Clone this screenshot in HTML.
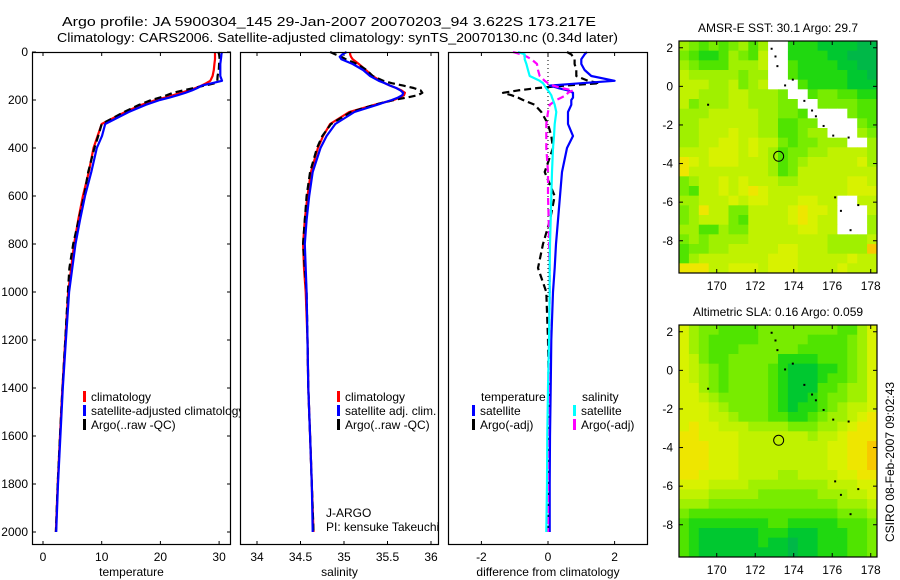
<!DOCTYPE html>
<html><head><meta charset="utf-8"><style>
html,body{margin:0;padding:0;background:#fff;}
svg{display:block;font-family:"Liberation Sans",sans-serif;}
</style></head><body>
<svg id="fig" width="900" height="580" viewBox="0 0 900 580" xmlns="http://www.w3.org/2000/svg">
<text x="62" y="26" font-size="13" textLength="534" lengthAdjust="spacingAndGlyphs">Argo profile: JA 5900304_145 29-Jan-2007 20070203_94 3.622S 173.217E</text>
<text x="57" y="42" font-size="13" textLength="561" lengthAdjust="spacingAndGlyphs">Climatology: CARS2006. Satellite-adjusted climatology: synTS_20070130.nc (0.34d later)</text>
<g id="g"></g>
</svg>
<script>
// ---- profile data ----
const depths = [0,10,20,30,50,75,100,120,130,140,150,160,170,180,190,200,220,250,300,350,400,500,600,700,800,900,1000,1200,1400,1600,1800,2000];
const climT = [29.3,29.3,29.3,29.3,29.2,29.1,28.9,28.5,27.8,27.0,26.0,24.8,23.5,22.2,20.8,19.2,16.8,14.0,10.0,9.3,8.6,7.8,6.8,6.0,5.3,4.8,4.3,3.8,3.3,2.9,2.5,2.2];
const satDiffT = [1.17,1.1,1.05,1.0,1.0,1.1,1.3,2.0,1.0,0.05,0.3,0.6,0.75,0.75,0.75,0.7,0.7,0.6,0.6,0.75,0.57,0.42,0.36,0.3,0.24,0.2,0.15,0.1,0.08,0.06,0.05,0.05];
const argoDiffT = [0.57,0.7,0.75,0.8,0.8,0.85,0.85,1.2,1.55,0.5,-0.3,-0.9,-1.35,-1.1,-0.9,-0.75,-0.4,-0.2,0,0.1,0.15,-0.1,0.2,0.06,-0.15,-0.3,-0.05,0,0.02,0,0,0];
const climS = [35.07,35.07,35.08,35.1,35.17,35.25,35.33,35.42,35.47,35.53,35.6,35.66,35.7,35.69,35.64,35.57,35.35,35.06,34.84,34.76,34.70,34.62,34.58,34.55,34.53,34.54,34.56,34.58,34.59,34.61,34.63,34.65];
const satS = [35.03,34.98,34.95,34.97,35.1,35.22,35.3,35.4,35.47,35.53,35.6,35.65,35.68,35.67,35.62,35.55,35.38,35.12,34.9,34.8,34.73,34.64,34.6,34.57,34.55,34.56,34.57,34.58,34.59,34.61,34.63,34.64];
const argoS = [34.84,34.9,34.97,35.02,35.15,35.26,35.33,35.45,35.55,35.68,35.8,35.88,35.9,35.85,35.72,35.57,35.35,35.08,34.85,34.75,34.69,34.61,34.57,34.55,34.53,34.55,34.57,34.58,34.59,34.61,34.63,34.65];
const satDiffS = [-0.9,-0.7,-0.7,-0.7,-0.65,-0.6,-0.55,-0.25,-0.15,-0.1,-0.06,0,0.05,0.1,0.12,0.15,0.2,0.25,0.2,0.18,0.15,0.12,0.1,0.08,0.06,0.05,0.05,0.03,0,-0.02,-0.03,-0.05];
const argoDiffS = [-1.05,-0.8,-0.63,-0.5,-0.33,-0.3,-0.25,-0.1,0.0,0.15,0.4,0.75,0.6,0.55,0.4,0.25,0.05,0.0,-0.05,-0.05,-0.05,0,0,0.02,0.03,0.05,0.05,0.03,0.02,0,0,0];
const depthTicks = [0,200,400,600,800,1000,1200,1400,1600,1800,2000];
const tTicks = [0,10,20,30];
const sTicks = [34,34.5,35,35.5,36];
const dTicks = [-2,0,2];
// ---- map data ----
const sstRows = [
"543434535ww222111100","432235436ww222211000","543335556ww322221100","655555455ww322222110",
"666556456www32222111","66555665554ww3443322","645556655544ww444433","5556666655443wwww433",
"55666666553344wwww43","556667665533455www54","55667767664344555ww5","66677767653445566665",
"87677766653456666675","86666666653466666666","45667676665566666776","43667678766666666777",
"5566676776667766ww66","4586644666678776www6","4566643666678766www5","5533544666667766www5",
"45455556666666655556","34455666667766655559","35666666677766666766","88866777677766667666"];
const slaRows = [
"75443333444444443357","75433333444443333457","75433344444433333457","76433444442222333457",
"76543444432111223457","76543444432111233457","77543444432111334557","77654444432112344557",
"77765444432122345667","77766544433223455678","78776665555444556788","88777766666665667888",
"88877766666666677889","88877766666666677889","88877766666666677889","88777766665566667788",
"77766665555555566677","66655555444444555667","55544444444444445556","43333333333333334445",
"32222222233222223334","32111111222111222334","32111111211011222334","32111111111011222334"];
const latTicks = [2,0,-2,-4,-6,-8];
const lonTicks = [170,172,174,176,178];
const argoLon = 173.217, argoLat = -3.622;

const NS="http://www.w3.org/2000/svg";
const G=document.getElementById('g');
function el(t,a,p){const e=document.createElementNS(NS,t);for(const k in a)e.setAttribute(k,a[k]);(p||G).appendChild(e);return e;}
function txt(s,a,p){const e=el('text',a,p);e.textContent=s;return e;}
const yD=d=>52+d*0.24;
const FS=12;

function panel(x0,x1,xs,ticks,fmt,label,name,yLabels){
  const pg=el('g',{});
  
  
  el('rect',{x:x0,y:52,width:x1-x0,height:493,fill:'#fff',stroke:'none'},pg);
  ticks.forEach(v=>{const x=xs(v);
    el('line',{x1:x,x2:x,y1:52,y2:56,stroke:'#000'},pg);
    el('line',{x1:x,x2:x,y1:545,y2:541,stroke:'#000'},pg);
    const t=txt(fmt(v),{x:x,y:561,'font-size':FS,'text-anchor':'middle'},pg);
    
    
  });
  const t=txt(label,{x:(x0+x1)/2,y:576,'font-size':FS,'text-anchor':'middle'},pg);
  
  
  return pg;
}
function frame(x0,x1,name){
  const r=el('rect',{x:x0+0.5,y:52.5,width:x1-x0-1,height:492,fill:'none',stroke:'#000','stroke-width':1.2});
  
  
}
function line(xs,vals,color,name,dash,clip){
  const pts=vals.map((v,i)=>xs(v).toFixed(1)+','+yD(depths[i]).toFixed(1)).join(' ');
  const a={points:pts,fill:'none',stroke:color,'stroke-width':2.2,'stroke-linejoin':'round'};
  if(dash)a['stroke-dasharray']=dash;
  const p=el('polyline',a);
  
  
}
function legend(x,y,color,label,name){
  const r=el('rect',{x:x,y:y-10,width:3,height:11,fill:color});
  
  
  const t=txt(label,{x:x+8,y:y,'font-size':FS});
  
  
}

// Panel 1 temperature
const xT=v=>43+v*5.87;
panel(32,231,xT,tTicks,v=>String(v),'temperature','temperature-panel');
depthTicks.forEach(d=>{const y=yD(d);
  el('line',{x1:32,x2:36,y1:y,y2:y,stroke:'#000'});
  el('line',{x1:231,x2:227,y1:y,y2:y,stroke:'#000'});
  const t=txt(String(d),{x:28,y:y+4,'font-size':FS,'text-anchor':'end'});
  
  
});
line(xT,climT,'#f00','temp-climatology-line');
line(xT,climT.map((v,i)=>v+argoDiffT[i]),'#000','temp-argo-line','7 4');
line(xT,climT.map((v,i)=>v+satDiffT[i]),'#00f','temp-satellite-line');
legend(83,401,'#f00','climatology','legend-climatology');
legend(83,415,'#00f','satellite-adjusted climatology','legend-satellite-adjusted');
legend(83,429,'#000','Argo(..raw -QC)','legend-argo');
frame(32,231,'temperature-frame');

// Panel 2 salinity
const xS=v=>257+(v-34)*87;
panel(240,439,xS,sTicks,v=>String(v),'salinity','salinity-panel');
line(xS,climS,'#f00','sal-climatology-line');
line(xS,argoS,'#000','sal-argo-line','7 4');
line(xS,satS,'#00f','sal-satellite-line');
legend(337,401,'#f00','climatology','legend2-climatology');
legend(337,415,'#00f','satellite adj. clim.','legend2-satellite');
legend(337,429,'#000','Argo(..raw -QC)','legend2-argo');
let t=txt('J-ARGO',{x:326,y:517,'font-size':FS});


t=txt('PI: kensuke Takeuchi',{x:326,y:531,'font-size':FS});


frame(240,439,'salinity-frame');

// Panel 3 differences
const xDf=v=>548+v*33.3;
panel(448,648,xDf,dTicks,v=>String(v),'difference from climatology','difference-panel');
el('line',{x1:548,x2:548,y1:52,y2:300,stroke:'#000','stroke-width':1,'stroke-dasharray':'1 3'});
line(xDf,argoDiffT,'#000','diff-temp-argo-line','7 4');
line(xDf,satDiffT,'#00f','diff-temp-satellite-line');
line(xDf,argoDiffS,'#f0f','diff-sal-argo-line','7 4');
line(xDf,satDiffS,'#0ff','diff-sal-satellite-line');
t=txt('temperature',{x:481,y:401,'font-size':FS});


t=txt('salinity',{x:582,y:401,'font-size':FS});


legend(472,415,'#00f','satellite','legend3-temp-satellite');
legend(472,429,'#000','Argo(-adj)','legend3-temp-argo');
legend(573,415,'#0ff','satellite','legend3-sal-satellite');
legend(573,429,'#f0f','Argo(-adj)','legend3-sal-argo');
frame(448,648,'difference-frame');

// Maps
const pal={'0':'#00b848','1':'#00c830','2':'#20d810','3':'#50e400','4':'#78ec00','5':'#a0f000','6':'#c0f200','7':'#d8f200','8':'#eee600','9':'#f8c800','w':'#ffffff'};
function map(rows,top,title,name){
  const x0=679,x1=877,bot=top+232;
  const lonX=l=>679+(l-168.04)*19.25;
  const latY=l=>top+(2.35-l)*19.3;
  const mg=el('g',{});
  
  
  const cw=(x1-x0)/rows[0].length, ch=(bot-top)/rows.length;
  rows.forEach((row,r)=>{[...row].forEach((c,ci)=>{
    const rc=el('rect',{x:(x0+ci*cw).toFixed(2),y:(top+r*ch).toFixed(2),width:(cw+0.4).toFixed(2),height:(ch+0.4).toFixed(2),fill:pal[c]},mg);
    
    
  });});
  const c=el('circle',{cx:lonX(argoLon),cy:latY(argoLat),r:5,fill:'none',stroke:'#000','stroke-width':1},mg);
  
  
  el('rect',{x:x0,y:top,width:x1-x0,height:bot-top,fill:'none',stroke:'#000','stroke-width':1.2},mg);
  latTicks.forEach(l=>{const y=latY(l);
    el('line',{x1:x0,x2:x0+4,y1:y,y2:y,stroke:'#000'},mg);
    el('line',{x1:x1,x2:x1-4,y1:y,y2:y,stroke:'#000'},mg);
    const tt=txt(String(l),{x:673,y:y+4,'font-size':FS,'text-anchor':'end'},mg);
    
    
  });
  lonTicks.forEach(l=>{const x=lonX(l);
    el('line',{x1:x,x2:x,y1:top,y2:top+4,stroke:'#000'},mg);
    el('line',{x1:x,x2:x,y1:bot,y2:bot-4,stroke:'#000'},mg);
    const tt=txt(String(l),{x:x,y:bot+17,'font-size':FS,'text-anchor':'middle'},mg);
    
    
  });
  const tt=txt(title,{x:778,y:top-9,'font-size':FS,'text-anchor':'middle'},mg);
  
  
  // coastline specks
  const isl=[[172.8,2.0],[173.0,1.6],[173.1,1.1],[173.9,0.4],[173.5,0.1],[174.5,-0.7],[174.9,-1.2],[175.1,-1.5],[175.5,-2.0],[176.0,-2.5],[176.8,-2.6],[176.1,-5.7],[176.4,-6.4],[177.3,-6.1],[176.9,-7.4],[169.5,-0.9]];
  isl.forEach(p=>{const d=el('rect',{x:lonX(p[0]),y:latY(p[1]),width:2,height:2,fill:'#000'},mg);
    
    });
}
map(sstRows,41,'AMSR-E SST: 30.1  Argo: 29.7','sst-map');
map(slaRows,325,'Altimetric SLA: 0.16 Argo: 0.059','sla-map');
t=txt('CSIRO 08-Feb-2007 09:02:43',{x:0,y:0,'font-size':FS,'text-anchor':'middle',transform:'translate(894,462) rotate(-90)'});


</script>
</body></html>
